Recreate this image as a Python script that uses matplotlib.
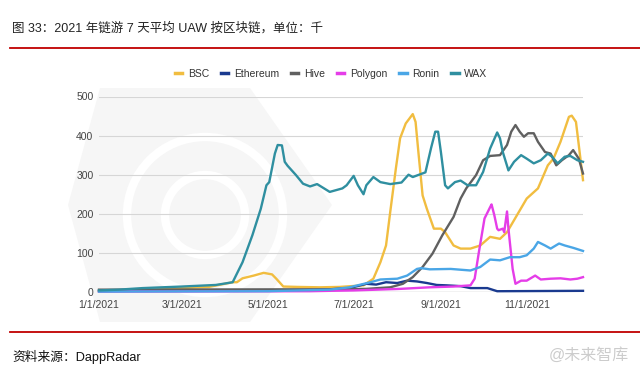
import matplotlib
matplotlib.use("Agg")
import matplotlib.pyplot as plt
import matplotlib.dates as mdates
from matplotlib.patches import Polygon as PolyPatch, Ellipse
from matplotlib.lines import Line2D
import pandas as pd

plt.rcParams['font.family'] = ['Liberation Sans', 'Noto Sans CJK SC', 'DejaVu Sans']

title = "图 33：2021 年链游 7 天平均 UAW 按区块链，单位：千"
source = "资料来源：DappRadar"

series_names = ["BSC", "Ethereum", "Hive", "Polygon", "Ronin", "WAX"]
series_colors = ["#f1bd40", "#1a3a8f", "#606060", "#e53de8", "#4aa6e6", "#2f8fa0"]

bsc_dates = ["01-01", "01-20", "02-10", "03-01", "03-20", "04-06", "04-09", "04-13", "04-21", "04-28",
             "05-04", "05-07", "05-12", "05-22", "06-07", "06-21", "07-08", "07-15", "07-20", "07-24",
             "07-27", "07-31", "08-03", "08-07", "08-12", "08-14", "08-16", "08-19", "08-22", "08-27",
             "09-01", "09-04", "09-10", "09-15", "09-22", "09-29", "10-06", "10-13", "10-18", "10-25",
             "11-01", "11-09", "11-16", "11-20", "11-25", "12-01", "12-03", "12-06", "12-08", "12-11"]
bsc_vals = [2, 3, 6, 10, 13, 25, 25, 35, 42, 49,
            45, 34, 14, 13, 12, 13, 17, 34, 76, 119,
            205, 316, 393, 431, 455, 435, 358, 247, 213, 162,
            162, 153, 119, 111, 111, 119, 141, 136, 153, 196,
            239, 265, 324, 341, 384, 448, 451, 435, 376, 286]

eth_dates = ["01-01", "05-31", "06-14", "06-28", "07-10", "07-17", "07-24", "08-01", "08-08", "08-15",
             "08-22", "08-29", "09-05", "09-15", "09-22", "10-04", "10-11", "12-11"]
eth_vals = [3, 4, 7, 10, 21, 19, 25, 23, 29, 27,
            23, 18, 17, 15, 10, 10, 2, 3]

hive_dates = ["01-01", "06-20", "07-10", "07-27", "08-05", "08-12", "08-19", "08-26", "09-02", "09-10",
              "09-15", "09-19", "09-26", "10-01", "10-06", "10-13", "10-18", "10-21", "10-24", "10-27",
              "10-30", "11-02", "11-06", "11-09", "11-14", "11-18", "11-22", "11-26", "12-01", "12-04",
              "12-08", "12-11"]
hive_vals = [6, 7, 8, 12, 21, 38, 64, 98, 145, 192,
             239, 265, 299, 337, 348, 350, 376, 410, 427, 410,
             397, 406, 406, 384, 358, 354, 324, 337, 350, 363,
             341, 303]

polygon_dates = ["01-01", "05-31", "06-14", "07-01", "08-03", "08-24", "09-10", "09-22", "09-25", "09-28",
                 "10-02", "10-06", "10-07", "10-09", "10-11", "10-12", "10-15", "10-16", "10-18", "10-19",
                 "10-22", "10-24", "10-28", "11-01", "11-07", "11-11", "11-18", "11-25", "12-02", "12-07",
                 "12-11"]
polygon_vals = [1, 2, 3, 4, 8, 12, 14, 17, 34, 102,
                188, 217, 224, 196, 162, 158, 162, 153, 206, 162,
                59, 21, 29, 29, 42, 32, 34, 35, 32, 34,
                38]

ronin_dates = ["01-01", "05-01", "06-14", "06-28", "07-13", "07-20", "08-01", "08-08", "08-15", "08-18",
               "08-24", "09-08", "09-15", "09-22", "09-29", "10-06", "10-13", "10-20", "10-27", "11-01",
               "11-06", "11-09", "11-14", "11-18", "11-24", "11-28", "12-04", "12-11"]
ronin_vals = [1, 2, 6, 12, 25, 32, 34, 42, 59, 61,
              58, 59, 57, 55, 64, 83, 81, 89, 89, 94,
              111, 128, 119, 111, 124, 119, 113, 105]

wax_dates = ["01-01", "01-15", "02-01", "03-01", "03-25", "04-01", "04-06", "04-13", "04-20", "04-26",
             "04-30", "05-02", "05-06", "05-08", "05-11", "05-13", "05-15", "05-21", "05-26", "05-31",
             "06-05", "06-14", "06-23", "06-26", "07-01", "07-04", "07-08", "07-10", "07-15", "07-20",
             "07-27", "08-04", "08-09", "08-12", "08-21", "08-25", "08-28", "08-30", "09-01", "09-04",
             "09-06", "09-11", "09-15", "09-20", "09-26", "10-01", "10-06", "10-11", "10-13", "10-15",
             "10-19", "10-23", "10-28", "11-01", "11-06", "11-11", "11-16", "11-19", "11-23", "11-28",
             "12-02", "12-07", "12-11"]
wax_vals = [4, 6, 10, 14, 18, 22, 25, 76, 145, 213,
            273, 281, 354, 376, 375, 333, 323, 299, 277, 270,
            276, 256, 265, 273, 297, 273, 250, 273, 294, 281,
            276, 280, 300, 294, 306, 368, 410, 410, 358, 273,
            265, 281, 285, 273, 273, 307, 367, 408, 393, 358,
            311, 333, 350, 341, 329, 337, 354, 346, 329, 346,
            348, 337, 333]

all_dates = [bsc_dates, eth_dates, hive_dates, polygon_dates, ronin_dates, wax_dates]
all_vals = [bsc_vals, eth_vals, hive_vals, polygon_vals, ronin_vals, wax_vals]

tick_dates = ["2021-01-01", "2021-03-01", "2021-05-01", "2021-07-01", "2021-09-01", "2021-11-01"]
y_ticks = [0, 100, 200, 300, 400, 500]

W, H = 640, 377
fig = plt.figure(figsize=(W / 100, H / 100), dpi=100)

def px(x, y):
    return (x / W, 1 - y / H)

# faint background logo (hexagon + rings)
hex_pts = [px(100, 88), px(250, 88), px(332, 205), px(250, 322), px(100, 322), px(68, 205)]
fig.patches.append(PolyPatch(hex_pts, closed=True, transform=fig.transFigure,
                             facecolor="#f6f6f6", edgecolor="none", zorder=-2))
cx, cy = px(205, 215)
for r, lw in [(78, 6), (40, 6)]:
    fig.patches.append(Ellipse((cx, cy), 2 * r / W, 2 * r / H, transform=fig.transFigure,
                               facecolor="none", edgecolor="white", lw=lw, zorder=-1))

fig.text(12 / W, 1 - 28 / H, title, fontsize=9, va="center", ha="left", color="#222222")
fig.add_artist(Line2D([10 / W, 1], [1 - 48 / H] * 2, color="#c00000", lw=1.3))
fig.add_artist(Line2D([10 / W, 1], [1 - 332 / H] * 2, color="#c00000", lw=1.3))
fig.text(12 / W, 1 - 357 / H, source, fontsize=9.2, va="center", ha="left", color="#111111")
fig.text(629 / W, 1 - 355 / H, "@未来智库", fontsize=11.5, va="center", ha="right", color="#cccccc")

ax = fig.add_axes([99 / W, 1 - 292 / H, (583 - 99) / W, (292 - 96.5) / H])
ax.set_zorder(2)
ax.patch.set_alpha(0)

for name, color, ds, vs in zip(series_names, series_colors, all_dates, all_vals):
    dts = pd.to_datetime(["2021-" + d for d in ds])
    ax.plot(dts, vs, color=color, lw=1.7, label=name, clip_on=False, solid_joinstyle="round")

ax.set_xlim(pd.Timestamp("2021-01-01"), pd.Timestamp("2021-12-11"))
ax.set_ylim(0, 500)
ax.set_yticks(y_ticks)
ax.set_xticks(pd.to_datetime(tick_dates))
ax.xaxis.set_major_formatter(plt.FuncFormatter(
    lambda v, p: f"{mdates.num2date(v).month}/{mdates.num2date(v).day}/{mdates.num2date(v).year}"))
ax.tick_params(axis="both", length=0, labelsize=7.5, colors="#444444")
ax.tick_params(axis="x", pad=6)
ax.tick_params(axis="y", pad=4)
ax.grid(axis="y", color="#d6d6d6", lw=0.8)
ax.set_axisbelow(True)
for s in ax.spines.values():
    s.set_visible(False)
ax.axhline(0, color="#555555", lw=0.8, zorder=1)

handles = [Line2D([], [], color=c, lw=2.5) for c in series_colors]
fig.legend(handles, series_names, loc="center", bbox_to_anchor=(331 / W, 1 - 74 / H), ncol=6,
           frameon=False, fontsize=7.5, handlelength=0.7, handletextpad=0.55, columnspacing=1.15,
           labelcolor="#333333")

fig.savefig("out.png", dpi=100)
